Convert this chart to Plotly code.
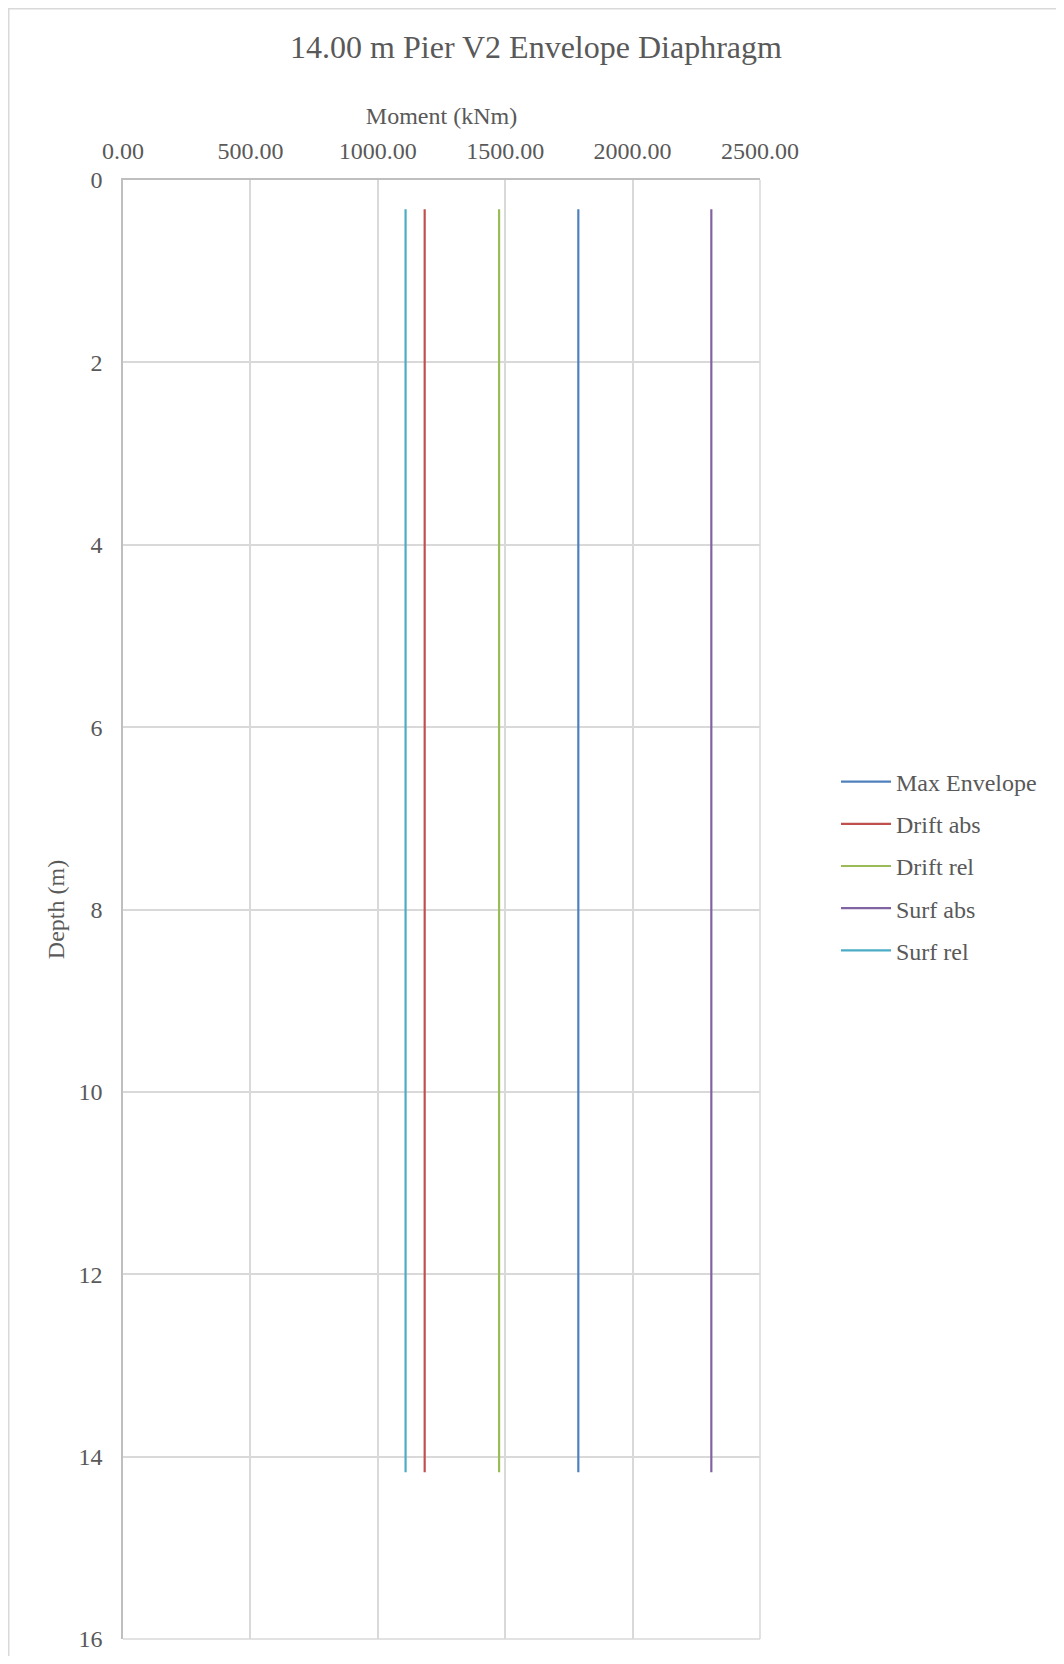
import plotly.graph_objects as go

# Data
depth = [0.32, 14.17]
series_names = ["Max Envelope", "Drift abs", "Drift rel", "Surf abs", "Surf rel"]
max_envelope = [1787, 1787]
drift_abs = [1184, 1184]
drift_rel = [1476, 1476]
surf_abs = [2309, 2309]
surf_rel = [1109, 1109]
x_ticks = [0, 500, 1000, 1500, 2000, 2500]
y_ticks = [0, 2, 4, 6, 8, 10, 12, 14, 16]

colors = ["#4F81BD", "#C0504D", "#9BBB59", "#8064A2", "#4BACC6"]
values = [max_envelope, drift_abs, drift_rel, surf_abs, surf_rel]

FONT = "Liberation Serif, Times New Roman, serif"
TXT = "#595959"

# page has an 8px body margin; figure is sized/offset to fit the 1064x1664 window
OFF = 8
W, H = 1064 - 2 * OFF, 1664 - 2 * OFF
L, R, T, B = 123 - OFF, 760 - OFF, 180 - OFF, 1639 - OFF
pw, ph = R - L, B - T

fig = go.Figure()
for name, vals, col in zip(series_names, values, colors):
    fig.add_trace(go.Scatter(
        x=vals, y=depth, mode="lines", name=name, legendgroup=name,
        line=dict(color=col, width=2.2),
    ))

fig.update_layout(
    width=W, height=H,
    margin=dict(l=L, r=W - R, t=T, b=H - B, autoexpand=False),
    paper_bgcolor="white", plot_bgcolor="white",
    font=dict(family=FONT, size=24, color=TXT),
    title=dict(text="14.00 m Pier V2 Envelope Diaphragm", x=(536 - OFF) / W, xanchor="center",
               y=1 - (47 - OFF) / H, yanchor="middle", font=dict(size=32, color=TXT, family=FONT)),
    showlegend=True,
    legend=dict(x=(836 - OFF - L) / pw, xanchor="left", y=(B - (866 - OFF)) / ph, yanchor="middle",
                font=dict(size=24, color=TXT, family=FONT), tracegroupgap=8,
                itemwidth=50, bgcolor="rgba(0,0,0,0)"),
    xaxis=dict(side="top", range=[0, 2500], tickvals=x_ticks, tickformat=".2f",
               showgrid=True, gridcolor="#D9D9D9", gridwidth=1.5,
               showline=True, linecolor="#BFBFBF", linewidth=1.5,
               ticks="outside", ticklen=10, tickcolor="rgba(0,0,0,0)",
               zeroline=False, mirror=False, automargin=False,
               title=dict(text="Moment (kNm)", standoff=6, font=dict(size=24, color=TXT, family=FONT)),
               tickfont=dict(size=24, color=TXT, family=FONT)),
    yaxis=dict(range=[16, 0], tickvals=y_ticks,
               showgrid=True, gridcolor="#D9D9D9", gridwidth=1.5,
               showline=True, linecolor="#BFBFBF", linewidth=1.5,
               ticks="outside", ticklen=14, tickcolor="rgba(0,0,0,0)",
               zeroline=False, automargin=False,
               title=dict(text="Depth (m)", standoff=7, font=dict(size=24, color=TXT, family=FONT)),
               tickfont=dict(size=24, color=TXT, family=FONT)),
)

# Plot-area right and bottom edges (light gray frame like the reference)
fig.add_shape(type="line", xref="paper", yref="paper", x0=1, x1=1, y0=0, y1=1,
              line=dict(color="#D9D9D9", width=1.5), layer="below")
fig.add_shape(type="line", xref="paper", yref="paper", x0=0, x1=1, y0=0, y1=0,
              line=dict(color="#D9D9D9", width=1.5), layer="below")

# Chart-area border (top and left edges visible in the reference)
fig.add_shape(type="rect", xref="paper", yref="paper",
              x0=(0.75 - L) / pw, x1=(W + 10 - L) / pw,
              y0=(B - (H + 10)) / ph, y1=(B - 0.75) / ph,
              line=dict(color="#D9D9D9", width=1.5), fillcolor="rgba(0,0,0,0)", layer="below")

fig.write_html("out.html")
